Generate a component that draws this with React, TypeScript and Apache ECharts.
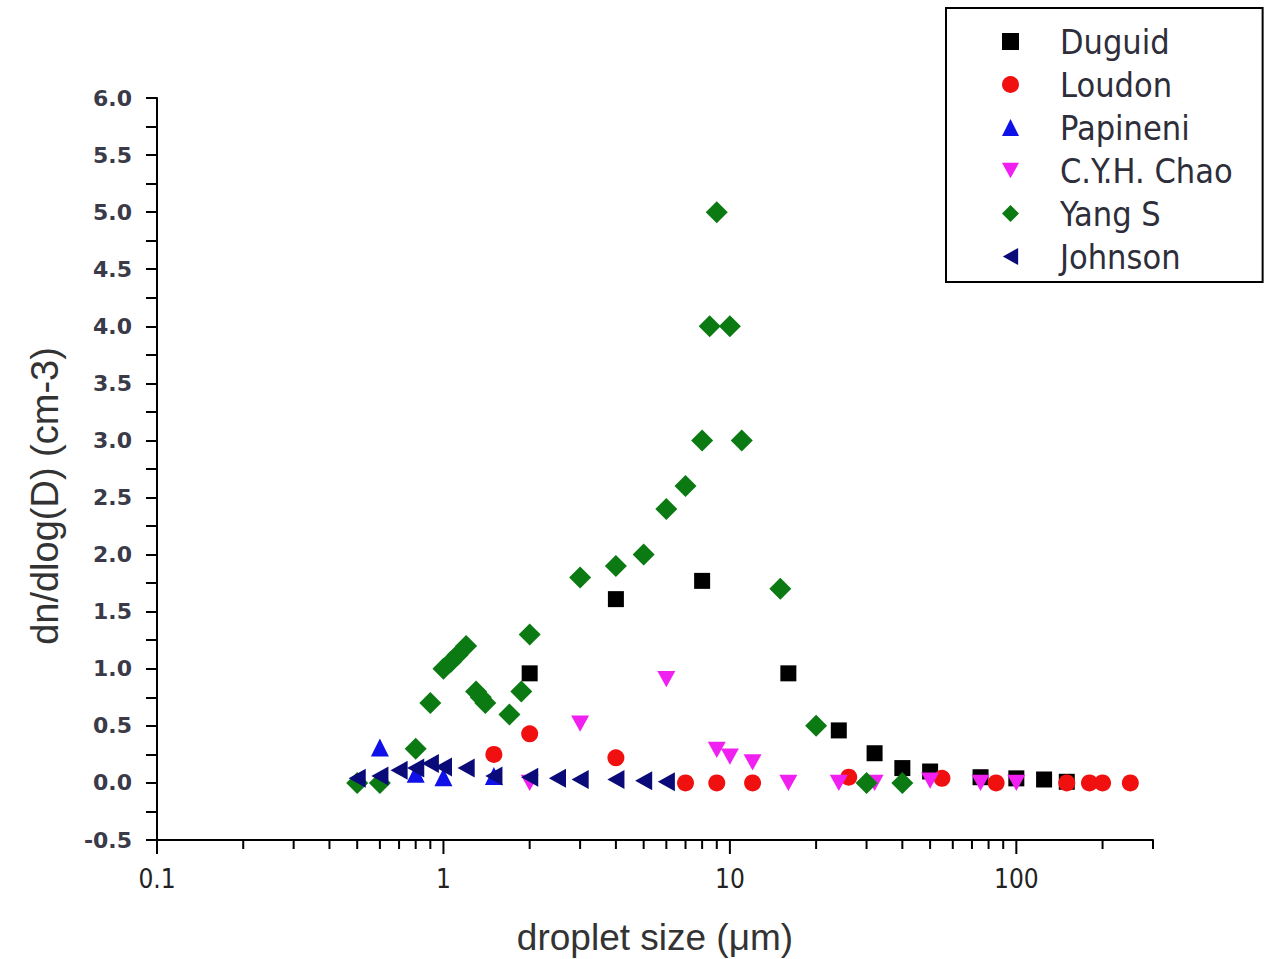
import React, { useEffect, useRef } from "react";
import * as echarts from "echarts";

const seriesNames = ["Duguid", "Loudon", "Papineni", "C.Y.H. Chao", "Yang S", "Johnson"];

const duguidX = [2, 4, 8, 16, 24, 32, 40, 50, 75, 100, 125, 150];
const duguidY = [0.96, 1.61, 1.77, 0.96, 0.46, 0.26, 0.13, 0.1, 0.05, 0.04, 0.03, 0.01];

const loudonX = [1.5, 2, 4, 7, 9, 12, 26, 55, 85, 150, 180, 200, 250];
const loudonY = [0.25, 0.43, 0.22, 0, 0, 0, 0.05, 0.04, 0, 0, 0, 0, 0];

const papineniX = [0.6, 0.8, 1.0, 1.5];
const papineniY = [0.31, 0.08, 0.05, 0.06];

const chaoX = [2, 3, 6, 9, 10, 12, 16, 24, 32, 50, 75, 100];
const chaoY = [0, 0.52, 0.91, 0.29, 0.23, 0.18, 0, 0, 0, 0.02, 0, 0];

const yangX = [0.5, 0.6, 0.8, 0.9, 1.0, 1.06, 1.12, 1.2, 1.3, 1.35, 1.4, 1.7, 1.87, 2.0, 3.0, 4.0, 5.0, 6.0, 7.0, 8.0, 8.5, 9.0, 10, 11, 15, 20, 30, 40];
const yangY = [0, 0, 0.3, 0.7, 1.0, 1.06, 1.12, 1.2, 0.8, 0.75, 0.7, 0.6, 0.8, 1.3, 1.8, 1.9, 2.0, 2.4, 2.6, 3.0, 4.0, 5.0, 4.0, 3.0, 1.7, 0.5, 0, 0];

const johnsonX = [0.5, 0.6, 0.7, 0.8, 0.9, 1.0, 1.2, 1.5, 2, 2.5, 3, 4, 5, 6];
const johnsonY = [0.04, 0.06, 0.11, 0.13, 0.17, 0.14, 0.13, 0.06, 0.05, 0.04, 0.03, 0.03, 0.02, 0.01];

const xMajorTicks = [0.1, 1, 10, 100];
const xMinorTicks = [0.2, 0.3, 0.4, 0.5, 0.6, 0.7, 0.8, 0.9, 2, 3, 4, 5, 6, 7, 8, 9, 20, 30, 40, 50, 60, 70, 80, 90, 200, 300];

const xTitle = "droplet size (μm)";
const yTitle = "dn/dlog(D) (cm-3)";

const downTriangle = "path://M0,0 L10,0 L5,9 Z";
const leftTriangle = "path://M9,0 L9,10 L0,5 Z";

const zip = (xs: number[], ys: number[]) => xs.map((x, i) => [x, ys[i]]);

export default function App() {
  const ref = useRef<HTMLDivElement>(null);
  useEffect(() => {
    if (!ref.current) return;
    const chart = echarts.init(ref.current, null, { renderer: "svg" });
    const mk = (name: string, xs: number[], ys: number[], symbol: string, size: number, color: string) => ({
      name,
      type: "scatter",
      data: zip(xs, ys),
      symbol,
      symbolSize: size,
      symbolKeepAspect: true,
      itemStyle: { color, opacity: 1 },
      emphasis: { disabled: true },
    });
    const tickData = [
      ...xMajorTicks.map((v) => [v, 1]),
      ...xMinorTicks.map((v) => [v, 0]),
    ];
    chart.setOption({
      animation: false,
      backgroundColor: "#ffffff",
      grid: { left: 157, right: 113, top: 98, bottom: 119 },
      legend: {
        orient: "vertical",
        left: 946,
        top: 8,
        padding: [12, 30, 4, 56],
        itemGap: 0,
        itemWidth: 17,
        itemHeight: 17,
        symbolKeepAspect: true,
        borderColor: "#000",
        borderWidth: 2,
        backgroundColor: "#fff",
        selectedMode: false,
        textStyle: {
          fontFamily: "DejaVu Sans Condensed",
          fontSize: 34,
          color: "#2e2e3a",
          lineHeight: 43,
          padding: [0, 0, 0, 36],
        },
        data: seriesNames,
      },
      xAxis: {
        type: "log",
        logBase: 10,
        min: 0.1,
        max: 300,
        axisLine: { show: true, onZero: false, lineStyle: { color: "#000", width: 2 } },
        axisTick: { show: false },
        minorTick: { show: false },
        splitLine: { show: false },
        axisLabel: {
          margin: 26,
          fontFamily: "DejaVu Sans Condensed",
          fontSize: 26,
          color: "#222",
          showMaxLabel: false,
          formatter: (v: number) => {
            const m = xMajorTicks.find((t) => Math.abs(t - v) / t < 1e-6);
            return m !== undefined ? String(m) : "";
          },
        },
      },
      yAxis: {
        type: "value",
        min: -0.5,
        max: 6,
        interval: 0.5,
        axisLine: { show: true, onZero: false, lineStyle: { color: "#000", width: 2 } },
        axisTick: { show: true, inside: false, length: 11, lineStyle: { color: "#000", width: 2 } },
        minorTick: { show: true, splitNumber: 2, length: 11, lineStyle: { color: "#000", width: 2 } },
        splitLine: { show: false },
        axisLabel: {
          margin: 25,
          fontFamily: "DejaVu Sans",
          fontSize: 22,
          fontWeight: "bold",
          color: "#3a3a48",
          formatter: (v: number) => v.toFixed(1),
        },
      },
      graphic: [
        {
          type: "text",
          x: 655,
          y: 937,
          style: {
            text: xTitle,
            fontFamily: "Liberation Sans",
            fontSize: 37,
            fill: "#333",
            textAlign: "center",
            textVerticalAlign: "middle",
          },
        },
        {
          type: "text",
          x: 45,
          y: 496,
          rotation: Math.PI / 2,
          style: {
            text: yTitle,
            fontFamily: "Liberation Sans",
            fontSize: 38,
            fill: "#333",
            textAlign: "center",
            textVerticalAlign: "middle",
          },
        },
      ],
      series: [
        {
          name: "xticks",
          type: "custom",
          silent: true,
          clip: false,
          z: 5,
          data: tickData,
          renderItem: (params: any, api: any) => {
            const x = api.value(0);
            const major = api.value(1);
            const p = api.coord([x, -0.5]);
            return {
              type: "line",
              shape: { x1: p[0], y1: p[1], x2: p[0], y2: p[1] + (major ? 14 : 9) },
              style: { stroke: "#000", lineWidth: 2 },
            };
          },
        },
        mk("Duguid", duguidX, duguidY, "rect", 16, "#000000"),
        mk("Loudon", loudonX, loudonY, "circle", 17, "#f01010"),
        mk("Papineni", papineniX, papineniY, "triangle", 18, "#1010e8"),
        mk("C.Y.H. Chao", chaoX, chaoY, downTriangle, 18, "#f020f0"),
        mk("Yang S", yangX, yangY, "diamond", 22, "#0b7a12"),
        mk("Johnson", johnsonX, johnsonY, leftTriangle, 19, "#0a0a78"),
      ],
    });
    return () => chart.dispose();
  }, []);
  return (
    <div
      ref={ref}
      style={{ position: "fixed", left: 0, top: 0, width: 1266, height: 959, background: "#fff" }}
    />
  );
}
